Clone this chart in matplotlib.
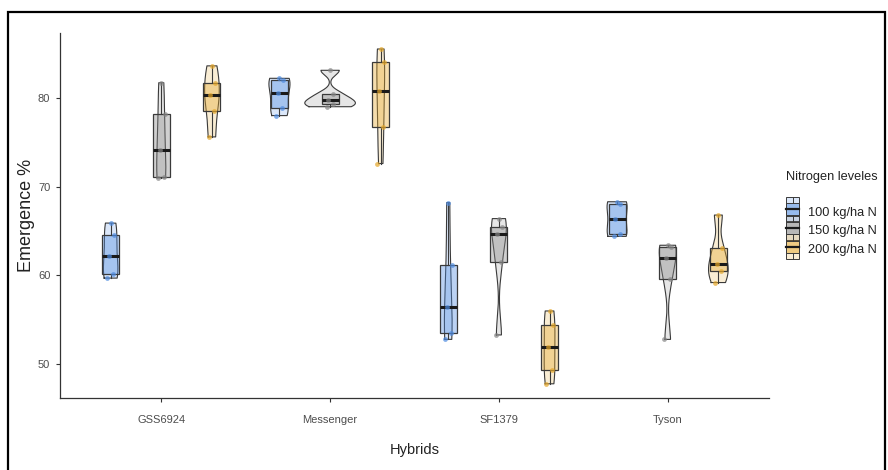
import numpy as np
import matplotlib
matplotlib.use("Agg")
import matplotlib.pyplot as plt
from matplotlib.patches import Rectangle
from matplotlib.lines import Line2D
from matplotlib.legend_handler import HandlerBase

hybrids = ["GSS6924", "Messenger", "SF1379", "Tyson"]
levels = ["100 kg/ha N", "150 kg/ha N", "200 kg/ha N"]

# emergence % per hybrid, one list per nitrogen level (100, 150, 200)
gss6924 = [[59.7, 60.2, 62.2, 64.6, 65.9],
           [71.0, 71.1, 74.1, 78.2, 81.7],
           [75.6, 78.5, 80.3, 81.7, 83.6]]
messenger = [[78.0, 78.8, 80.6, 82.0, 82.2],
             [79.0, 79.3, 79.7, 80.4, 83.1],
             [72.6, 76.7, 80.8, 84.0, 85.5]]
sf1379 = [[52.8, 53.5, 56.4, 61.2, 68.2],
          [53.3, 61.5, 64.7, 65.5, 66.4],
          [47.8, 49.4, 51.9, 54.4, 56.0]]
tyson = [[64.4, 64.7, 66.4, 68.1, 68.3],
         [52.8, 59.6, 62.0, 63.2, 63.4],
         [59.2, 60.5, 61.3, 63.1, 66.8]]
groups = [gss6924, messenger, sf1379, tyson]

colors = ["#4D8BE1", "#858585", "#E5A729"]
jit = [-0.02, 0.015, -0.01, 0.02, 0.0]
dodge = 0.3
va, ba = 0.2, 0.38   # violin / box fill alpha
edge = "#3a3a3a"


def nrd0(x):
    x = np.asarray(x)
    sd = x.std(ddof=1)
    q75, q25 = np.percentile(x, [75, 25])
    lo = min(sd, (q75 - q25) / 1.34)
    if lo == 0:
        lo = sd
    return 0.9 * lo * len(x) ** -0.2


def density(x, n=512):
    x = np.asarray(x)
    bw = nrd0(x)
    g = np.linspace(x.min(), x.max(), n)
    d = np.exp(-0.5 * ((g[:, None] - x[None, :]) / bw) ** 2).sum(1)
    d = d / (len(x) * bw * np.sqrt(2 * np.pi))
    return g, d


fig = plt.figure(figsize=(8.88, 4.70), dpi=100)
ax = fig.add_axes([60 / 888, 1 - 398 / 470, 709 / 888, 365 / 470])

# violins (scale = "area": widths relative to the global max density)
dens = [[density(v) for v in g] for g in groups]
dmax = max(d.max() for g in dens for _, d in g)
for i, g in enumerate(groups):
    for j, vals in enumerate(g):
        pos = i + 1 + (j - 1) * dodge
        yy, d = dens[i][j]
        half = 0.15 * d / dmax
        ax.fill_betweenx(yy, pos - half, pos + half, facecolor=colors[j],
                         alpha=va, edgecolor="none", zorder=2)
        ax.plot(np.r_[pos - half, (pos + half)[::-1], pos - half[0]],
                np.r_[yy, yy[::-1], yy[0]], color=edge, lw=0.8, zorder=2.1)

        bp = ax.boxplot([vals], positions=[pos], widths=0.1, patch_artist=True,
                        showfliers=False, showcaps=False,
                        medianprops=dict(color="#1a1a1a", lw=2.2),
                        whiskerprops=dict(color=edge, lw=0.8),
                        boxprops=dict(edgecolor=edge, lw=0.9))
        for b in bp["boxes"]:
            b.set_facecolor(matplotlib.colors.to_rgba(colors[j], ba))
            b.set_zorder(3)
        for ln in bp["medians"]:
            ln.set_zorder(4)
        ax.scatter(pos + np.array(jit[:len(vals)]), vals, s=12, color=colors[j],
                   alpha=0.7, linewidths=0, zorder=5)

ax.set_xlim(0.4, 4.6)
ax.set_ylim(46.2, 87.3)
ax.set_xticks(range(1, 5))
ax.set_xticklabels(hybrids)
ax.set_yticks([50, 60, 70, 80])
for s in ["top", "right"]:
    ax.spines[s].set_visible(False)
for s in ["left", "bottom"]:
    ax.spines[s].set_color("#333333")
    ax.spines[s].set_linewidth(0.9)
ax.tick_params(colors="#333333", length=3, width=0.8, labelcolor="#4D4D4D",
               labelsize=8)
ax.tick_params(axis="x", pad=9)
ax.tick_params(axis="y", pad=4)
for t in ax.get_xticklabels() + ax.get_yticklabels():
    t.set_family("Liberation Sans")
ax.set_xlabel("Hybrids", family="Liberation Sans", fontsize=10.5, labelpad=13,
              color="#222222")
ax.set_ylabel("Emergence %", family="Liberation Sans", fontsize=13, labelpad=2,
              color="#222222")


class BoxKey(HandlerBase):
    def create_artists(self, legend, orig, xd, yd, w, h, fs, trans):
        c = orig.get_facecolor()[:3]
        x0, y0 = -xd, -yd
        hh = h + yd
        out = Rectangle((x0, y0), w, hh, facecolor=(*c, va),
                        edgecolor=edge, lw=0.7, transform=trans)
        box = Rectangle((x0, y0 + hh * 0.25), w, hh * 0.5, facecolor=(*c, ba + 0.1),
                        edgecolor=edge, lw=0.7, transform=trans)
        mid = Line2D([x0, x0 + w], [y0 + hh / 2] * 2, color="#1a1a1a", lw=1.6,
                     transform=trans)
        v1 = Line2D([x0 + w / 2] * 2, [y0, y0 + hh * 0.25], color=edge,
                    lw=0.7, transform=trans)
        v2 = Line2D([x0 + w / 2] * 2, [y0 + hh * 0.75, y0 + hh], color=edge,
                    lw=0.7, transform=trans)
        return [out, box, mid, v1, v2]


fig.text(786 / 888, 1 - 177 / 470, "Nitrogen leveles", family="Liberation Sans",
         fontsize=9.2, va="center", ha="left", color="#222222")
handles = [Rectangle((0, 0), 1, 1, facecolor=c) for c in colors]
leg = fig.legend(handles, levels, handler_map={Rectangle: BoxKey()},
                 loc="upper left", bbox_to_anchor=(786 / 888, 1 - 202 / 470),
                 frameon=False, prop=dict(family="Liberation Sans", size=9.2),
                 handlelength=1.05, handleheight=1.9, labelspacing=0.0,
                 handletextpad=0.7, borderpad=0.0, borderaxespad=0.0)
for t in leg.get_texts():
    t.set_color("#222222")

# outer frame
fig.patches.append(Rectangle((8 / 888, -0.01), 877 / 888, 1 - 12 / 470 + 0.01,
                             transform=fig.transFigure, fill=False,
                             edgecolor="black", lw=1.6))

fig.savefig("out.png", dpi=100)
